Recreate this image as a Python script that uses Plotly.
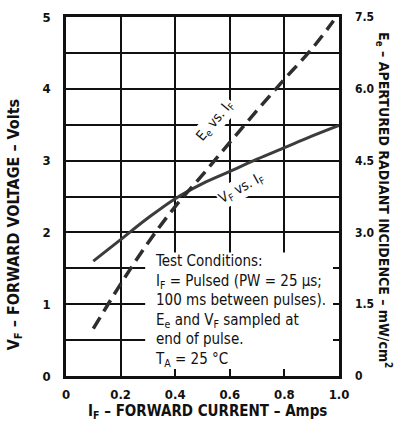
import plotly.graph_objects as go

# ---- data ----
if_vf = [0.1, 0.2, 0.3, 0.4, 0.5, 0.6, 0.7, 0.8, 0.9, 1.0]
vf_volts = [1.60, 1.90, 2.20, 2.47, 2.68, 2.85, 3.02, 3.18, 3.34, 3.49]

if_ee = [0.1, 0.2, 0.3, 0.4, 0.5, 0.6, 0.7, 0.8, 0.9, 0.98]
ee_mw = [0.99, 1.92, 2.78, 3.54, 4.20, 4.88, 5.55, 6.20, 6.83, 7.42]

x_ticks = [0, 0.2, 0.4, 0.6, 0.8, 1.0]
x_ticktext = ["0", "0.2", "0.4", "0.6", "0.8", "1.0"]
y_ticks = [0, 1, 2, 3, 4, 5]
y_ticktext = ["0", "1", "2", "3", "4", "5"]
y2_ticks = [0, 1.5, 3.0, 4.5, 6.0, 7.5]
y2_ticktext = ["0", "1.5", "3.0", "4.5", "6.0", "7.5"]

FONT = "DejaVu Sans Condensed, Liberation Sans Narrow, Arial Narrow, sans-serif"
INK = "#111111"

fig = go.Figure()
fig.add_trace(go.Scatter(x=if_vf, y=vf_volts, mode="lines", yaxis="y",
                         line=dict(color="#3c3c3c", width=3, shape="spline"),
                         showlegend=False, hoverinfo="skip"))
fig.add_trace(go.Scatter(x=if_ee, y=ee_mw, mode="lines", yaxis="y2",
                         line=dict(color="#2e2e2e", width=3.5, dash="13px,7px", shape="spline"),
                         showlegend=False, hoverinfo="skip"))

fig.update_layout(
    width=397, height=428,
    margin=dict(l=66, r=58, t=10, b=52),
    paper_bgcolor="white", plot_bgcolor="white",
    font=dict(family=FONT, color=INK, size=13),
    xaxis=dict(range=[0, 1.0], tickvals=x_ticks, ticktext=x_ticktext,
               showgrid=True, gridcolor=INK, gridwidth=1.6,
               showline=True, linecolor=INK, linewidth=2.5, mirror=True,
               ticks="inside", ticklen=7, tickwidth=1.6, tickcolor=INK,
               ticklabelstandoff=5,
               tickfont=dict(family=FONT, size=13, color=INK, weight="bold"),
               zeroline=False, fixedrange=True),
    yaxis=dict(range=[0, 5], tickvals=y_ticks, ticktext=y_ticktext,
               showgrid=True, gridcolor=INK, gridwidth=1.6,
               minor=dict(dtick=0.5, showgrid=True, gridcolor=INK, gridwidth=1.6),
               showline=True, linecolor=INK, linewidth=2.5, mirror=True,
               ticks="", ticklabelstandoff=10,
               tickfont=dict(family=FONT, size=13, color=INK, weight="bold"),
               zeroline=False, fixedrange=True),
    yaxis2=dict(range=[0, 7.5], tickvals=y2_ticks + [0.75, 2.25], ticktext=y2_ticktext + ["", ""],
                overlaying="y", side="right", showgrid=False,
                ticks="inside", ticklen=6, tickwidth=1.6, tickcolor=INK,
                ticklabelstandoff=15,
                tickfont=dict(family=FONT, size=12, color=INK, weight="bold"),
                zeroline=False, fixedrange=True),
)

# white area behind the test-conditions note (grid removed there)
fig.add_shape(type="rect", xref="x", yref="y", x0=0.29, x1=1.0, y0=0, y1=1.72,
              fillcolor="white", line=dict(width=0), layer="between")

# axis titles
fig.add_annotation(xref="paper", yref="paper", x=-0.19, y=0.42, xanchor="center", yanchor="middle",
                   text="V<sub>F</sub> – FORWARD VOLTAGE – Volts", textangle=-90, showarrow=False,
                   font=dict(family=FONT, size=16, color=INK, weight="bold"))
fig.add_annotation(xref="paper", yref="paper", x=1.165, y=0.49, xanchor="center", yanchor="middle",
                   text="E<sub>e</sub> – APERTURED RADIANT INCIDENCE – mW/cm<sup>2</sup>", textangle=90,
                   showarrow=False, font=dict(family=FONT, size=14, color=INK, weight="bold"))
fig.add_annotation(xref="paper", yref="paper", x=0.52, y=-0.098, xanchor="center", yanchor="middle",
                   text="I<sub>F</sub> – FORWARD CURRENT – Amps", showarrow=False,
                   font=dict(family=FONT, size=15, color=INK, weight="bold"))

# curve labels
fig.add_annotation(x=0.545, y=3.55, xref="x", yref="y", text="E<sub>e</sub> vs. I<sub>F</sub>",
                   textangle=-50, showarrow=False, bgcolor="white",
                   font=dict(family=FONT, size=14, color=INK))
fig.add_annotation(x=0.643, y=2.62, xref="x", yref="y", text="V<sub>F</sub> vs. I<sub>F</sub>",
                   textangle=-29, showarrow=False, bgcolor="white",
                   font=dict(family=FONT, size=14, color=INK))

# test conditions note
note = ("Test Conditions:<br>"
        "I<sub>F</sub> = Pulsed (PW = 25 μs;<br>"
        "100 ms between pulses).<br>"
        "E<sub>e</sub> and V<sub>F</sub> sampled at<br>"
        "end of pulse.<br>"
        "T<sub>A</sub> = 25 °C")
fig.add_annotation(x=0.317, y=1.76, xref="x", yref="y", xanchor="left", yanchor="top",
                   text=note, align="left", showarrow=False,
                   font=dict(family=FONT, size=15, color=INK))

fig.write_html("out.html", config={"displayModeBar": False},
               post_script="document.body.style.margin='0';")
